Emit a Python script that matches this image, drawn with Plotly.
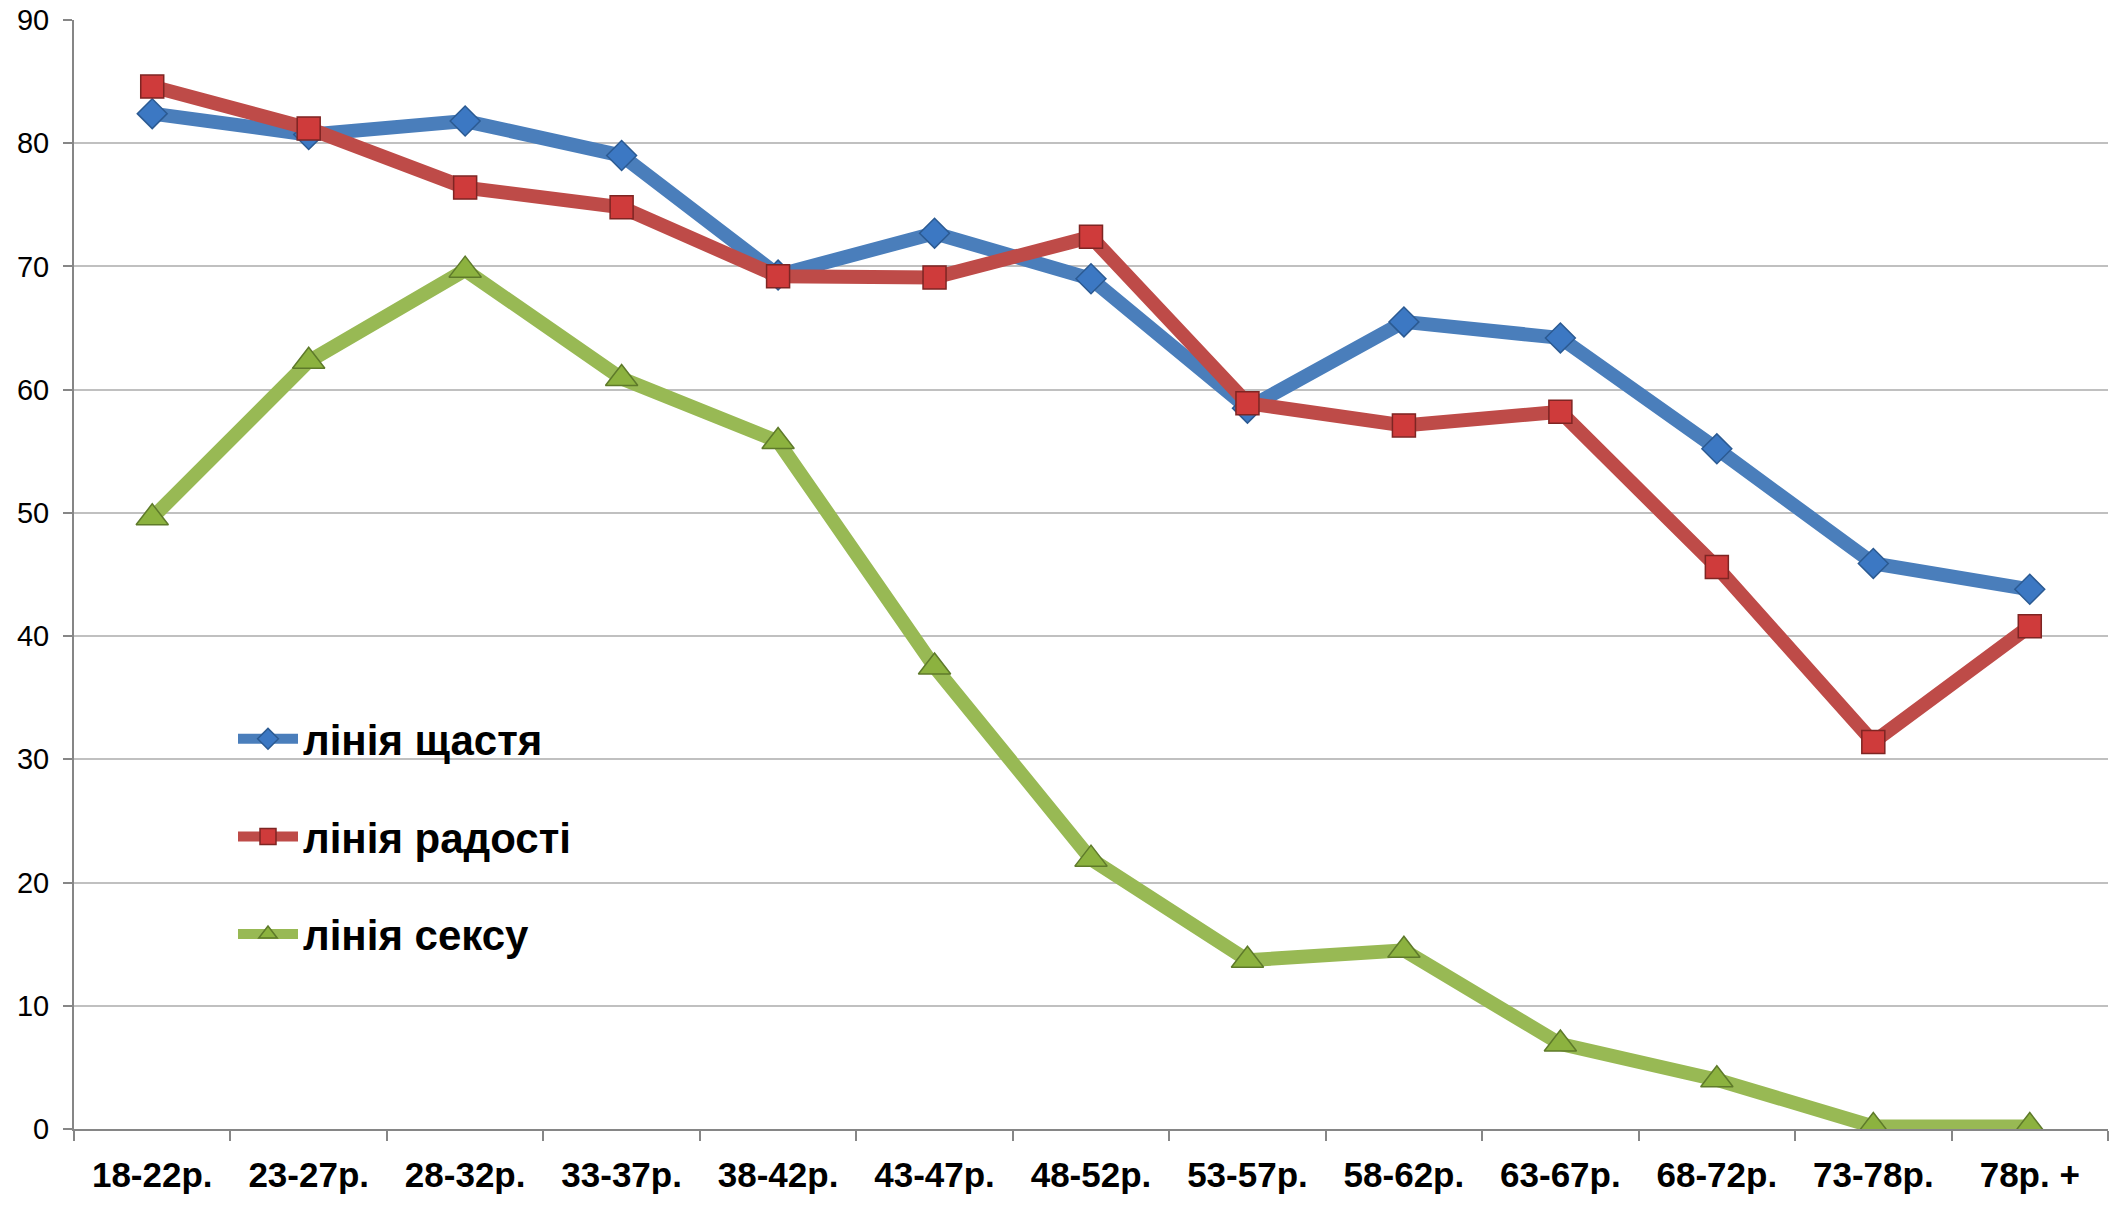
"""Лінії щастя, радості та сексу за віковими групами."""

import plotly.graph_objects as go

age_groups = [
    "18-22р.", "23-27р.", "28-32р.", "33-37р.", "38-42р.", "43-47р.", "48-52р.",
    "53-57р.", "58-62р.", "63-67р.", "68-72р.", "73-78р.", "78р. +",
]

happiness = [82.4, 80.7, 81.8, 79.0, 69.3, 72.7, 69.0, 58.5, 65.5, 64.2, 55.2, 45.9, 43.8]
joy = [84.6, 81.2, 76.4, 74.8, 69.2, 69.1, 72.4, 58.9, 57.1, 58.2, 45.6, 31.4, 40.8]
sex = [49.6, 62.3, 69.7, 60.9, 55.8, 37.5, 21.9, 13.7, 14.5, 6.9, 4.0, 0.2, 0.2]

series_names = ["лінія щастя", "лінія радості", "лінія сексу"]

y_ticks = list(range(0, 100, 10))

FONT = "Liberation Sans, Arial, sans-serif"

# plot area in pixels (from the reference)
PLOT_W = 2034
PLOT_H = 1109
PLOT_L = 74
PLOT_B = 1129

styles = [
    dict(line="#4A7EBB", marker="#3C78C3", edge="#2B5A92", symbol="diamond", size=23),
    dict(line="#BE4B48", marker="#CF3B3B", edge="#7E2523", symbol="square", size=23),
    dict(line="#98B954", marker="#8CB23F", edge="#5E7A2A", symbol="triangle-up", size=28),
]

fig = go.Figure()

for name, values, st in zip(series_names, [happiness, joy, sex], styles):
    fig.add_trace(
        go.Scatter(
            x=age_groups,
            y=values,
            name=name,
            legendgroup=name,
            mode="lines+markers",
            line=dict(color=st["line"], width=14),
            marker=dict(
                symbol=st["symbol"],
                size=st["size"],
                color=st["marker"],
                line=dict(color=st["edge"], width=1.5),
            ),
        )
    )

# white box behind the legend hides the gridlines there
fig.add_shape(
    type="rect",
    xref="paper", yref="paper",
    x0=(119 - PLOT_L) / PLOT_W, x1=(688 - PLOT_L) / PLOT_W,
    y0=(PLOT_B - 995) / PLOT_H, y1=(PLOT_B - 652) / PLOT_H,
    fillcolor="white",
    line_width=0,
    layer="between",
)

fig.update_layout(
    width=2123,
    height=1206,
    paper_bgcolor="white",
    plot_bgcolor="white",
    margin=dict(l=74, r=15, t=20, b=77, autoexpand=False),
    font=dict(family=FONT, color="black"),
    showlegend=True,
    legend=dict(
        x=(233 - PLOT_L) / PLOT_W,
        y=(PLOT_B - 705) / PLOT_H,
        xanchor="left",
        yanchor="top",
        bgcolor="rgba(0,0,0,0)",
        font=dict(size=42, family=FONT, weight="bold", color="black"),
        tracegroupgap=40,
        itemwidth=60,
        traceorder="grouped",
    ),
    xaxis=dict(
        type="category",
        range=[-0.5, len(age_groups) - 0.5],
        automargin=False,
        showline=True,
        linecolor="#868686",
        linewidth=2,
        ticks="outside",
        tickson="boundaries",
        ticklen=10,
        tickwidth=2,
        tickcolor="#868686",
        showgrid=False,
        tickfont=dict(size=35, family=FONT, weight="bold", color="black"),
        ticklabelstandoff=14,
    ),
    yaxis=dict(
        range=[0, 90],
        tickvals=y_ticks,
        automargin=False,
        showline=True,
        linecolor="#868686",
        linewidth=2,
        ticks="outside",
        ticklen=9,
        tickwidth=2,
        tickcolor="#868686",
        showgrid=True,
        gridcolor="#C0C0C0",
        gridwidth=2,
        zeroline=False,
        tickfont=dict(size=29, family=FONT, color="black"),
        ticklabelstandoff=8,
    ),
)

fig.write_html(
    "out.html",
    config={"displayModeBar": False},
    post_script="document.body.style.margin='0';document.body.style.overflow='hidden';",
)
